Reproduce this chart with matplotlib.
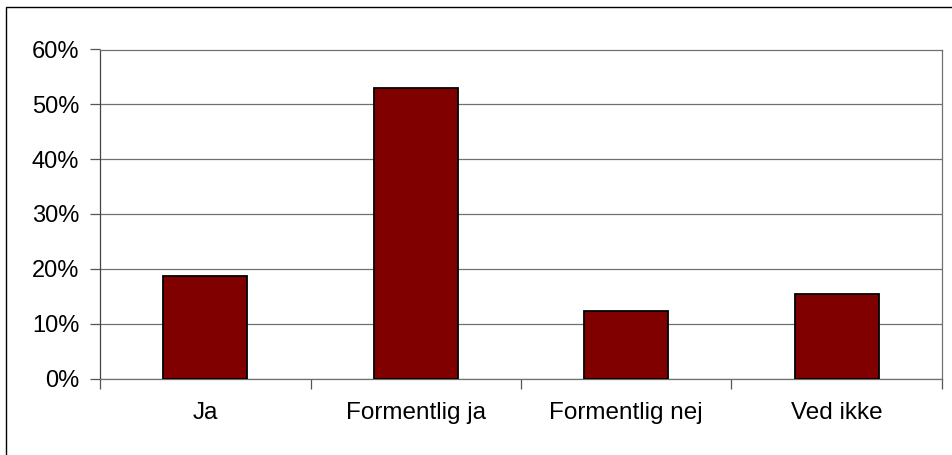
import matplotlib.pyplot as plt
from matplotlib.patches import Rectangle
from matplotlib.ticker import FuncFormatter, MultipleLocator
import numpy as np

plt.rcParams['font.family'] = ['Liberation Sans', 'DejaVu Sans']

# data
categories = ["Ja", "Formentlig ja", "Formentlig nej", "Ved ikke"]
shares = [0.187, 0.530, 0.124, 0.155]

fig = plt.figure(figsize=(9.52, 4.55), dpi=100)

# outer chart border (right/bottom fall off the picture)
fig.patches.append(Rectangle((6 / 952, -0.02), 1.05, 1 - 7 / 455 + 0.02,
                             transform=fig.transFigure, fill=False,
                             edgecolor='black', linewidth=1.0))

ax = fig.add_axes([100 / 952, 76.5 / 455, 842 / 952, 329 / 455])

x = np.arange(len(categories))
ax.bar(x, shares, width=0.4, color='#800000', edgecolor='black',
       linewidth=1.3, zorder=3)

ax.set_xlim(-0.5, len(categories) - 0.5)
ax.set_ylim(0, 0.6)
ax.yaxis.set_major_locator(MultipleLocator(0.1))
ax.yaxis.set_major_formatter(FuncFormatter(lambda v, p: f"{v * 100:.0f}%"))
ax.grid(axis='y', color='#707070', linewidth=0.9, zorder=0)

ax.set_xticks(x)
ax.set_xticklabels(categories)
ax.set_xticks(np.arange(-0.5, len(categories)), minor=True)
ax.tick_params(axis='x', which='major', length=0, pad=17, labelsize=17.5)
ax.tick_params(axis='x', which='minor', length=7, width=0.9, color='#555555')
ax.tick_params(axis='y', length=7, width=0.9, color='#555555', pad=8,
               labelsize=17)

for side in ['left', 'bottom', 'right', 'top']:
    ax.spines[side].set_color('#707070')
    ax.spines[side].set_linewidth(0.9)
ax.spines['left'].set_color('#444444')

fig.savefig('out.png', dpi=100)
